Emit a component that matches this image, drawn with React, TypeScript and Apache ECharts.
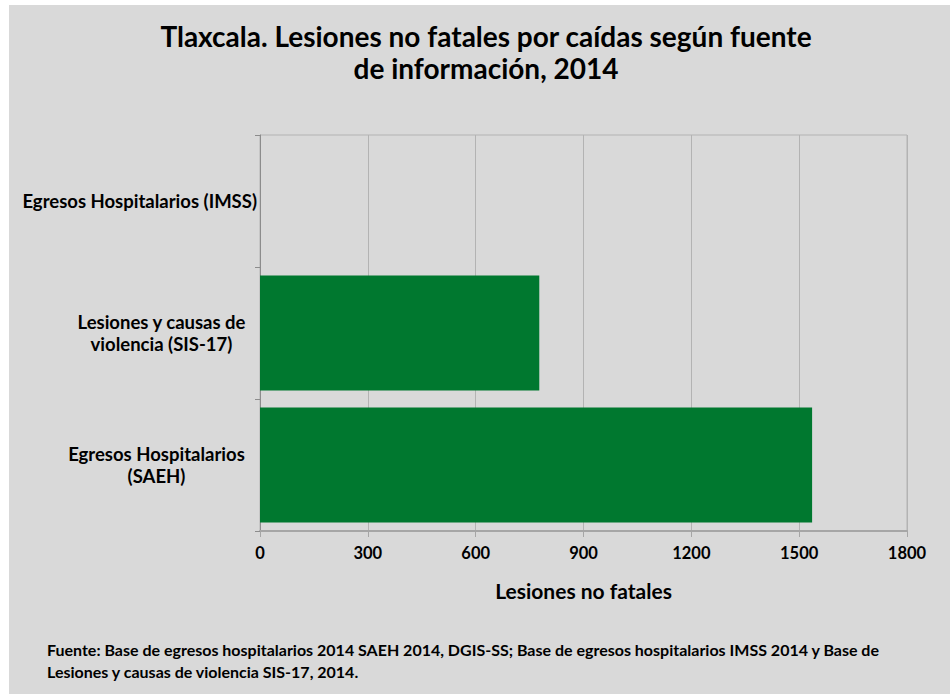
import React, { useEffect, useRef } from "react";
import * as echarts from "echarts";

const categories = [
  "Egresos Hospitalarios\n(SAEH)",
  "Lesiones y causas de\nviolencia (SIS-17)",
  "Egresos Hospitalarios (IMSS)",
];
const values = [1536, 777, 0];
const xTicks = { min: 0, max: 1800, interval: 300 };
const titleLines = [
  "Tlaxcala. Lesiones no fatales por caídas según fuente",
  "de información, 2014",
];
const axisName = "Lesiones no fatales";
const sourceLines = [
  "Fuente: Base de egresos hospitalarios 2014 SAEH 2014, DGIS-SS; Base de egresos hospitalarios IMSS 2014 y Base de",
  "Lesiones y causas de violencia SIS-17, 2014.",
];

const FONT = "Lato, 'Noto Sans', sans-serif";
const richKeys = ["s", "v", "i"];
const LBL = 18.5;

export default function App() {
  const ref = useRef<HTMLDivElement>(null);
  useEffect(() => {
    if (!ref.current) return;
    const chart = echarts.init(ref.current, undefined, { renderer: "svg" });
    const rs = { fontSize: LBL, fontWeight: "bold", color: "#000", fontFamily: FONT, lineHeight: 22 };
    chart.setOption({
      animation: false,
      backgroundColor: "#d9d9d9",
      textStyle: { fontFamily: FONT },
      grid: {
        left: 251,
        top: 130,
        width: 647,
        height: 396,
        show: true,
        borderColor: "#b3b3b3",
        borderWidth: 1,
        backgroundColor: "transparent",
      },
      xAxis: {
        type: "value",
        min: xTicks.min,
        max: xTicks.max,
        interval: xTicks.interval,
        axisLine: { show: true, lineStyle: { color: "#a6a6a6", width: 2 } },
        axisTick: { show: true, length: 6, lineStyle: { color: "#a6a6a6" } },
        splitLine: { show: true, lineStyle: { color: "#b3b3b3", width: 1 } },
        axisLabel: {
          margin: 13,
          color: "#000",
          fontSize: 16.5,
          fontWeight: "bold",
          fontFamily: FONT,
          formatter: (v: number) => String(v),
        },
        name: axisName,
        nameLocation: "middle",
        nameGap: 49,
        nameTextStyle: {
          color: "#000",
          fontSize: 21,
          fontWeight: "bold",
          fontFamily: FONT,
        },
      },
      yAxis: {
        type: "category",
        data: categories,
        axisLine: { show: true, lineStyle: { color: "#8c8c8c", width: 1 } },
        axisTick: { show: true, length: 5, lineStyle: { color: "#8c8c8c" } },
        axisLabel: {
          margin: 3,
          align: "right",
          color: "#000",
          fontSize: LBL,
          fontWeight: "bold",
          fontFamily: FONT,
          formatter: (v: string, idx: number) =>
            v
              .split("\n")
              .map((l) => `{${richKeys[idx]}|${l}}`)
              .join("\n"),
          rich: {
            s: { ...rs, width: 201, align: "center" },
            v: { ...rs, width: 191, align: "center" },
            i: { ...rs, align: "right" },
          },
        },
      },
      series: [
        {
          type: "bar",
          data: values,
          barCategoryGap: "13%",
          itemStyle: { color: "#00782f" },
        },
      ],
      graphic: [
        {
          type: "text",
          x: 477,
          y: 15,
          style: {
            text: titleLines.join("\n"),
            fontSize: 28,
            fontWeight: "bold",
            fontFamily: FONT,
            fill: "#000",
            align: "center",
            verticalAlign: "top",
            lineHeight: 32,
          },
        },
        {
          type: "text",
          x: 38,
          y: 633,
          style: {
            text: sourceLines.join("\n"),
            fontSize: 16,
            fontWeight: "bold",
            fontFamily: FONT,
            fill: "#000",
            align: "left",
            verticalAlign: "top",
            lineHeight: 22,
          },
        },
      ],
    });
    return () => chart.dispose();
  }, []);
  return (
    <div style={{ position: "fixed", left: 0, top: 0, width: 950, height: 694, background: "#fff" }}>
      <div
        ref={ref}
        style={{ position: "absolute", left: 9, top: 5, width: 941, height: 689 }}
      />
    </div>
  );
}
